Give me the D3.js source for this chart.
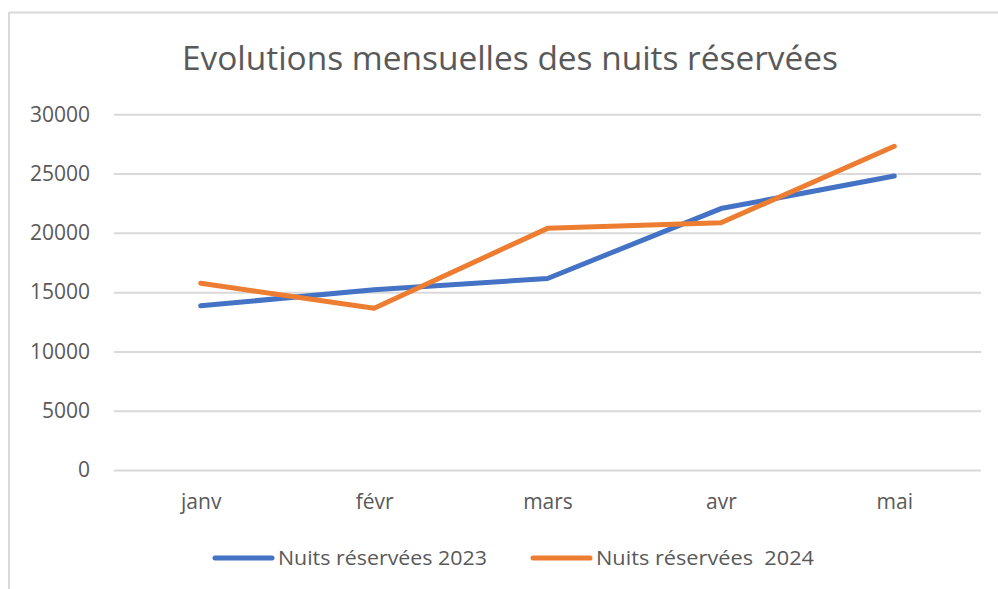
<!DOCTYPE html>
<html>
<head>
<meta charset="utf-8">
<script src="https://cdn.jsdelivr.net/npm/d3@7"></script>
<style>
  body { margin: 0; background: #fff; }
  svg text { font-family: "Open Sans", sans-serif; fill: #595959; }
</style>
</head>
<body>
<svg id="chart" width="998" height="589"></svg>
<script>
const months = ['janv', 'févr', 'mars', 'avr', 'mai'];
const nuits2023 = [13850, 15200, 16150, 22050, 24800];
const nuits2024 = [15750, 13650, 20380, 20850, 27300];
const yTicks = [0, 5000, 10000, 15000, 20000, 25000, 30000];
const seriesNames = ['Nuits réservées 2023', 'Nuits réservées  2024'];
const seriesColors = ['#4472C4', '#ED7D31'];

const svg = d3.select('#chart');

// chart frame (only top and left edges show)
svg.append('line').attr('x1', 9).attr('x2', 998).attr('y1', 12.5).attr('y2', 12.5)
  .attr('stroke', '#d9d9d9').attr('stroke-width', 2);
svg.append('line').attr('x1', 9).attr('x2', 9).attr('y1', 12).attr('y2', 589)
  .attr('stroke', '#d9d9d9').attr('stroke-width', 2);

const plotLeft = 114, plotRight = 981, plotTop = 114.3, plotBottom = 470;

const x = d3.scalePoint().domain(months).range([plotLeft, plotRight]).padding(0.5);
const y = d3.scaleLinear().domain([0, 30000]).range([plotBottom, plotTop]);

// title
svg.append('text')
  .attr('x', 510).attr('y', 70)
  .attr('text-anchor', 'middle')
  .attr('font-size', 33)
  .attr('textLength', 656)
  .attr('lengthAdjust', 'spacingAndGlyphs')
  .text('Evolutions mensuelles des nuits réservées');

// y axis + gridlines
const yAxis = svg.append('g')
  .attr('transform', `translate(${plotLeft},0)`)
  .call(d3.axisLeft(y).tickValues(yTicks).tickSize(-(plotRight - plotLeft)).tickPadding(24).tickFormat(d3.format('d')));
yAxis.select('.domain').remove();
yAxis.selectAll('.tick line').attr('stroke', '#d9d9d9').attr('stroke-width', 2);
yAxis.selectAll('.tick text').attr('font-size', 21).attr('fill', '#595959')
  .attr('font-family', '"Open Sans", sans-serif');

// x labels
const xAxis = svg.append('g')
  .attr('transform', `translate(0,${plotBottom})`)
  .call(d3.axisBottom(x).tickSize(0).tickPadding(24));
xAxis.select('.domain').remove();
xAxis.selectAll('.tick text').attr('font-size', 21).attr('fill', '#595959')
  .attr('font-family', '"Open Sans", sans-serif');

// lines
const line = d3.line().x((d, i) => x(months[i])).y(d => y(d));
[nuits2023, nuits2024].forEach((s, k) => {
  svg.append('path')
    .datum(s)
    .attr('d', line)
    .attr('fill', 'none')
    .attr('stroke', seriesColors[k])
    .attr('stroke-width', 5)
    .attr('stroke-linecap', 'round')
    .attr('stroke-linejoin', 'round');
});

// legend
const legendX = [215, 533];
const legendTextW = [209, 218];
seriesNames.forEach((name, k) => {
  const g = svg.append('g').attr('transform', `translate(${legendX[k]},558)`);
  g.append('line').attr('x1', 0).attr('x2', 57).attr('y1', 0).attr('y2', 0)
    .attr('stroke', seriesColors[k]).attr('stroke-width', 5).attr('stroke-linecap', 'round');
  g.append('text').attr('x', 63).attr('y', 6.5).attr('font-size', 20)
    .style('white-space', 'pre')
    .attr('textLength', legendTextW[k])
    .attr('lengthAdjust', 'spacingAndGlyphs')
    .text(name);
});
</script>
</body>
</html>
